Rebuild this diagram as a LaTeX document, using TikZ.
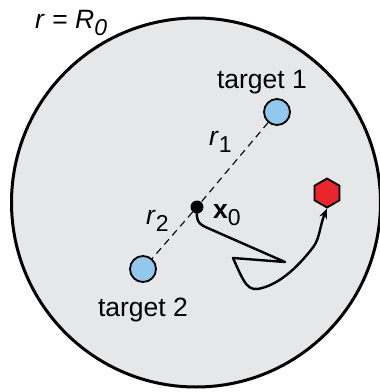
\documentclass[tikz,border=0pt]{standalone}
\usepackage{fontspec}
\setmainfont{Liberation Sans}
\usetikzlibrary{shapes.geometric,arrows.meta}
\definecolor{bg}{HTML}{E6E7E9}
\definecolor{tblue}{HTML}{92C8EC}
\definecolor{hexred}{HTML}{E8262B}
\newcommand{\subtx}[1]{\raisebox{-7pt}{\fontsize{23}{23}\selectfont #1}}
\tikzset{
  target/.style={circle,draw=black,line width=1.8pt,fill=tblue,minimum size=26pt,inner sep=0pt},
  lbl/.style={font=\fontsize{26.5}{29}\selectfont,inner sep=0pt},
  link/.style={line width=1.1pt,dash pattern=on 7pt off 5pt},
  walk/.style={line width=2.4pt,line join=round,-{Stealth[length=10pt,width=8pt]}}
}
\begin{document}
\begin{tikzpicture}[x=1pt,y=-1pt]
\useasboundingbox (0,0) rectangle (380,392);
\node[circle,draw=black,line width=3pt,fill=bg,minimum size=369pt,inner sep=0pt] (domain) at (196,202.5) {};
\node[lbl,anchor=base west] (rlab) at (35,28) {\textit{r} = \textit{R}\subtx{\textit{0}}};
\node[target] (t1) at (277,112) {};
\node[target] (t2) at (143,269) {};
\node[circle,fill=black,minimum size=13pt,inner sep=0pt] (x0) at (197,207) {};
\node[regular polygon,regular polygon sides=6,shape border rotate=30,draw=black,line width=1.8pt,fill=hexred,minimum size=29pt,inner sep=0pt] (hex) at (327,193) {};
\draw[link] (t1) -- (x0);
\draw[link] (x0) -- (t2);
\node[lbl,anchor=base] (l1) at (262,88) {target 1};
\node[lbl,anchor=base] (l2) at (143,316) {target 2};
\node[lbl,anchor=base west] (r1) at (209,145) {\textit{r}\subtx{1}};
\node[lbl,anchor=base west] (r2) at (146,224) {\textit{r}\subtx{2}};
\node[lbl,anchor=base west] (x0l) at (213,218) {\textbf{x}\subtx{0}};
\coordinate (a) at (285,262);
\coordinate (b) at (233,258);
\draw[walk] (x0.center) .. controls (196,222) and (198,224) .. (210,229)
  -- (a) -- (b) .. controls (245,285) and (248,292) .. (262,288)
  .. controls (285,282) and (305,258) .. (314,246)
  .. controls (320,237) and (320,225) .. (hex.south);
\end{tikzpicture}
\end{document}
